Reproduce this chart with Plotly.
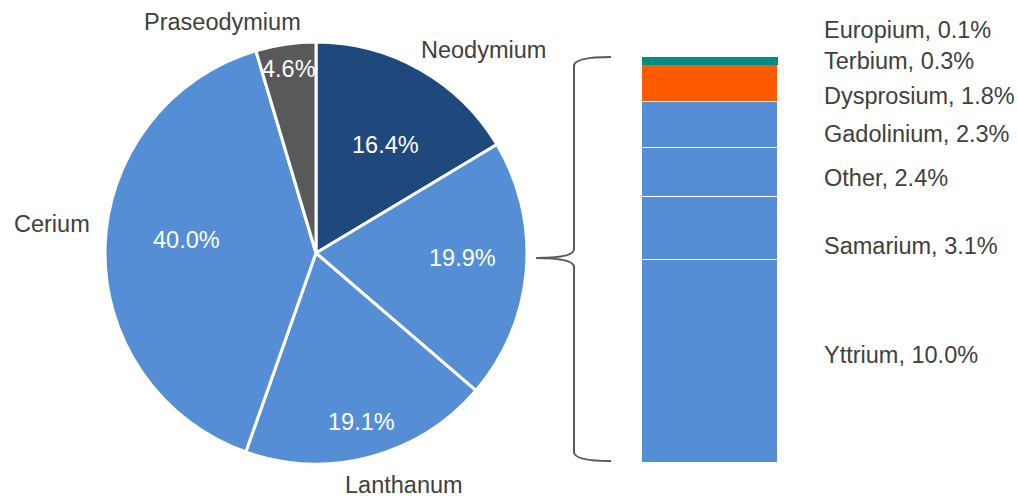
import math
import plotly.graph_objects as go

W, H = 1018, 499

# ---------------- data ----------------
pie_labels = ["Neodymium", "Other REE", "Lanthanum", "Cerium", "Praseodymium"]
pie_values = [16.4, 19.9, 19.1, 40.0, 4.6]
pie_show_name = [True, False, True, True, True]

bar_labels = ["Yttrium", "Samarium", "Other", "Gadolinium", "Dysprosium", "Terbium", "Europium"]
bar_values = [10.0, 3.1, 2.4, 2.3, 1.8, 0.3, 0.1]

# ---------------- styles ----------------
FONT = "Liberation Sans, Arial, sans-serif"
FS = 23.5
TXT = "#404040"
DARK = "#1F497D"
BLUE = "#558ED5"
GREY = "#595959"
ORANGE = "#FF5A00"
TEAL = "#008C80"
pie_colors = [DARK, BLUE, BLUE, BLUE, GREY]
bar_colors = [BLUE, BLUE, BLUE, BLUE, ORANGE, TEAL, TEAL]
bar_line_w = [1.5, 1.5, 1.5, 1.5, 1.5, 0, 0]

# pie geometry (pixels) and label placement styling
cx, cy, R = 316, 253, 211
inside_frac = [0.607, 0.697, 0.83, 0.616, 0.88]
inside_dang = [3.1, -3.1, 0.0, 4.1, 0.0]   # degrees offset from slice middle
name_pos = {"Neodymium": (483, 50), "Lanthanum": (404, 485),
            "Cerium": (52, 224), "Praseodymium": (222, 22)}
bar_label_y = [355, 246, 178, 134, 96, 61, 30]


def px(x):
    return x / W


def py(y):
    return 1 - y / H


fig = go.Figure()

fig.add_trace(go.Pie(
    labels=pie_labels, values=pie_values, sort=False, direction="clockwise",
    rotation=0, marker=dict(colors=pie_colors, line=dict(color="white", width=3)),
    textinfo="none", hoverinfo="label+percent", showlegend=False,
    domain=dict(x=[px(cx - R), px(cx + R)], y=[py(cy + R), py(cy - R)]),
))

# stacked bar
bar_bottom, bar_top = 463, 57
for lab, val, col, lw in zip(bar_labels, bar_values, bar_colors, bar_line_w):
    fig.add_trace(go.Bar(
        x=["REE"], y=[val], name=lab,
        marker=dict(color=col, line=dict(color="white", width=lw)),
        showlegend=False, hoverinfo="name+y",
    ))

annotations = []
# inside percentages placed from slice angles
total = sum(pie_values)
cum = 0.0
for lab, val, f, da in zip(pie_labels, pie_values, inside_frac, inside_dang):
    mid = (cum + val / 2) / total * 2 * math.pi + math.radians(da)
    cum += val
    x = cx + f * R * math.sin(mid)
    y = cy - f * R * math.cos(mid)
    annotations.append(dict(x=px(x), y=py(y), xref="paper", yref="paper",
                            xanchor="center", yanchor="middle",
                            text=f"{val:.1f}%", showarrow=False,
                            font=dict(family=FONT, size=FS, color="white")))

for lab, show in zip(pie_labels, pie_show_name):
    if show:
        x, y = name_pos[lab]
        annotations.append(dict(x=px(x), y=py(y), xref="paper", yref="paper",
                                xanchor="center", yanchor="middle",
                                text=lab, showarrow=False,
                                font=dict(family=FONT, size=FS, color=TXT)))

for lab, val, y in zip(bar_labels, bar_values, bar_label_y):
    annotations.append(dict(x=px(822), y=py(y), xref="paper", yref="paper",
                            xanchor="left", yanchor="middle",
                            text=f"{lab}, {val:.1f}%", showarrow=False,
                            font=dict(family=FONT, size=FS, color=TXT)))


def P(x, y):
    return f"{px(x):.5f},{py(y):.5f}"


# curly brace
path = (f"M {P(611,57)} Q {P(574,57)} {P(574,66)} L {P(574,249)} "
        f"Q {P(574,258)} {P(536,258)} Q {P(574,258)} {P(574,267)} "
        f"L {P(574,452)} Q {P(574,461)} {P(611,461)}")

fig.update_layout(
    width=W, height=H, margin=dict(l=0, r=0, t=0, b=0),
    paper_bgcolor="white", plot_bgcolor="white",
    barmode="stack", bargap=0,
    xaxis=dict(domain=[px(642), px(778)], visible=False, fixedrange=True),
    yaxis=dict(domain=[py(bar_bottom), py(bar_top)], range=[0, sum(bar_values)],
               visible=False, fixedrange=True),
    annotations=annotations,
    shapes=[dict(type="path", path=path, xref="paper", yref="paper",
                 line=dict(color=GREY, width=2))],
    font=dict(family=FONT),
)

fig.write_html("out.html")
